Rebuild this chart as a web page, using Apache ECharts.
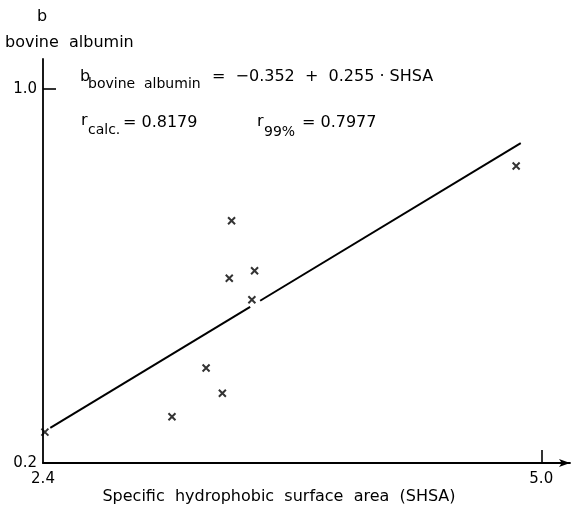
<!DOCTYPE html>
<html>
<head>
<meta charset="utf-8">
<script src="https://cdn.jsdelivr.net/npm/echarts@6/dist/echarts.min.js"></script>
<style>
  html, body { margin: 0; padding: 0; background: #fff; }
  #chart { width: 573px; height: 508px; }
</style>
</head>
<body>
<div id="chart"></div>
<script>
  // measured points (SHSA, b bovine albumin)
  var pointX = [2.41, 3.073, 3.251, 3.336, 3.372, 3.384, 3.490, 3.504, 4.869];
  var pointY = [0.266, 0.299, 0.403, 0.349, 0.595, 0.718, 0.549, 0.611, 0.835];
  // regression line, drawn in two pieces (gap near a marker)
  var lineX1 = [2.438, 3.481];
  var lineY1 = [0.275, 0.534];
  var lineX2 = [3.533, 4.893];
  var lineY2 = [0.547, 0.884];
  var xTicks = [2.4, 5.0];
  var yTicks = [0.2, 1.0];

  var FONT = 'DejaVu Sans';
  var chart = echarts.init(document.getElementById('chart'));

  function pairs(xs, ys) {
    return xs.map(function (x, i) { return [x, ys[i]]; });
  }

  function txt(text, x, y, size, align) {
    return {
      type: 'text',
      style: {
        text: text, x: x, y: y,
        font: (size || 16) + 'px "' + FONT + '"',
        fill: '#000',
        align: align || 'left',
        verticalAlign: 'middle'
      }
    };
  }

  var option = {
    animation: false,
    backgroundColor: '#fff',
    grid: { left: 43, right: 3, top: 59, bottom: 45 },
    xAxis: {
      type: 'value',
      min: 2.4,
      max: 5.15,
      splitLine: { show: false },
      axisLine: {
        lineStyle: { color: '#000', width: 1.8 },
        symbol: ['none', 'arrow'],
        symbolSize: [6, 11]
      },
      axisTick: {
        inside: true, length: 13,
        customValues: [5.0],
        lineStyle: { color: '#000', width: 1.6 }
      },
      axisLabel: {
        customValues: xTicks,
        showMinLabel: true,
        margin: 9,
        color: '#000',
        fontFamily: FONT,
        fontSize: 15,
        formatter: function (v) { return v.toFixed(1); }
      }
    },
    yAxis: {
      type: 'value',
      min: 0.2,
      max: 1.064,
      splitLine: { show: false },
      axisLine: { lineStyle: { color: '#000', width: 1.8 } },
      axisTick: {
        inside: true, length: 13,
        customValues: [1.0],
        lineStyle: { color: '#000', width: 1.6 }
      },
      axisLabel: {
        customValues: yTicks,
        showMinLabel: true,
        margin: 6,
        color: '#000',
        fontFamily: FONT,
        fontSize: 15,
        formatter: function (v) { return v.toFixed(1); }
      }
    },
    series: [
      {
        type: 'line',
        data: pairs(lineX1, lineY1),
        symbol: 'none',
        lineStyle: { color: '#000', width: 2 }
      },
      {
        type: 'line',
        data: pairs(lineX2, lineY2),
        symbol: 'none',
        lineStyle: { color: '#000', width: 2 }
      },
      {
        type: 'scatter',
        data: pairs(pointX, pointY),
        symbol: 'path://M0 0L10 10M10 0L0 10',
        symbolSize: 7,
        itemStyle: { color: 'transparent', borderColor: '#000', borderWidth: 2 }
      }
    ],
    graphic: [
      txt('b', 42, 17, 16, 'center'),
      txt('bovine  albumin', 5, 43),
      // regression equation
      txt('b', 80, 77),
      txt('bovine  albumin', 88, 84, 14),
      txt('=  \u22120.352  +  0.255 \u00b7 SHSA', 212, 77),
      // correlation coefficients
      txt('r', 81, 121),
      txt('calc.', 88, 130, 14),
      txt('= 0.8179', 123, 123),
      txt('r', 257, 122),
      txt('99%', 264, 132, 14),
      txt('= 0.7977', 302, 123),
      // axis title
      txt('Specific  hydrophobic  surface  area  (SHSA)', 279, 497, 16, 'center')
    ]
  };

  chart.setOption(option);
</script>
</body>
</html>
